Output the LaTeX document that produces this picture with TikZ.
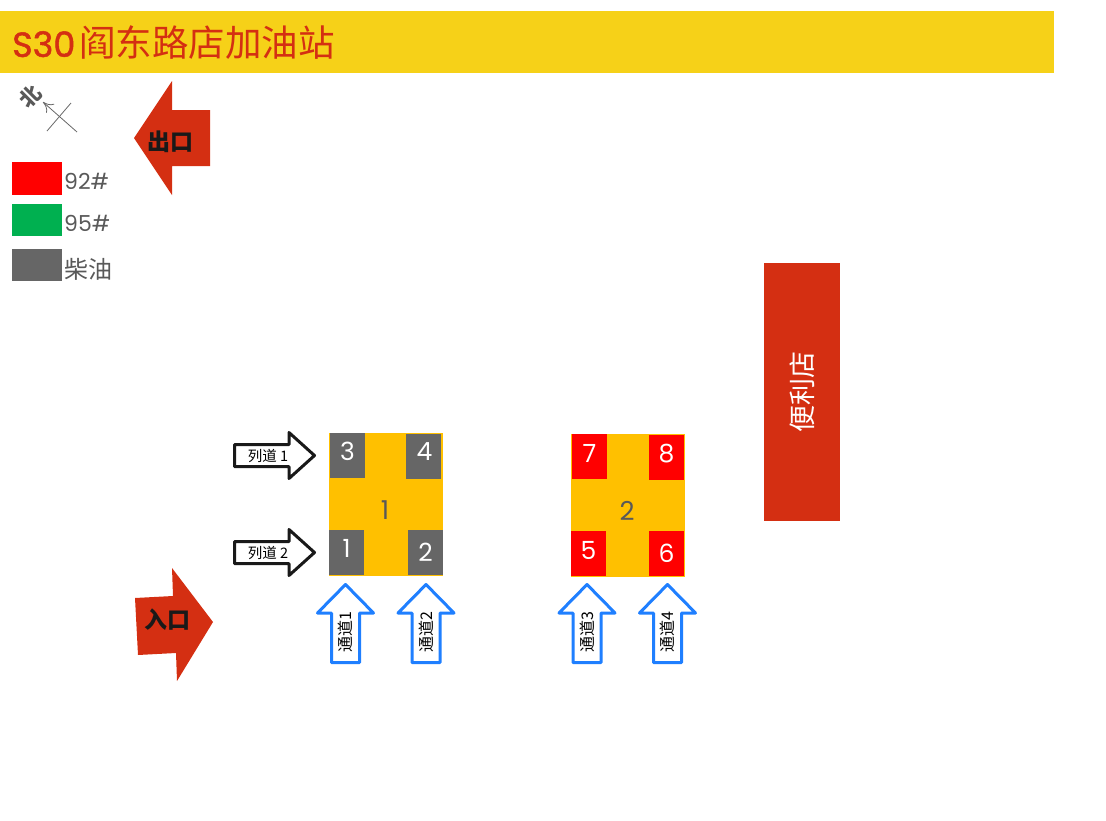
\documentclass[tikz,border=0pt]{standalone}
\usepackage{fontspec}
\setmainfont{Poppins}
\newfontfamily\cjk{Noto Sans CJK SC}
\newfontfamily\heavy[FakeBold=1.4]{Poppins}
\usetikzlibrary{positioning, arrows.meta}
\definecolor{banner}{HTML}{F6D118}
\definecolor{brick}{HTML}{D42F12}
\definecolor{amber}{HTML}{FFC000}
\definecolor{slate}{HTML}{666666}
\definecolor{ink}{HTML}{595959}
\definecolor{lane}{HTML}{1F7FFF}
\definecolor{petrol}{HTML}{00B050}
\newcommand{\fs}[1]{\fontsize{#1}{#1}\selectfont}
\tikzset{block/.style={rectangle, inner sep=0pt, outer sep=0pt}}
\tikzset{swatch/.style={block, minimum width=50pt}}
\tikzset{legendtext/.style={inner sep=0pt, text=ink, font=\fs{22}}}
\tikzset{island/.style={block, fill=amber, minimum width=114pt, minimum height=143pt}}
\tikzset{islandtext/.style={inner sep=0pt, text=ink, font=\fs{26}}}
\tikzset{pump/.style={block, text=white, font=\fs{25}, minimum width=35pt, minimum height=45pt}}
\tikzset{bigtext/.style={inner sep=0pt, font=\cjk\bfseries\fs{23}, text=black!90}}
\tikzset{rowarrow/.pic={
    \draw[black!90, fill=white, line width=3pt, line join=round] (0,-11) -- (54.5,-11) -- (54.5,-23) -- (80,0) -- (54.5,23) -- (54.5,11) -- (0,11) -- cycle;
    \node[inner sep=0pt, font=\cjk\fs{14.5}] (-label) at (33.5,0) {#1};
}}
\tikzset{passarrow/.pic={
    \draw[lane, fill=white, line width=3pt, line join=round] (-14,0) -- (-14,-49.5) -- (-28,-49.5) -- (0,-78) -- (28,-49.5) -- (14,-49.5) -- (14,0) -- cycle;
    \node[inner sep=0pt, rotate=90, font=\cjk\fs{16}] (-label) at (0,-30.5) {#1};
}}
\begin{document}
\begin{tikzpicture}[x=1pt, y=-1pt]

    \useasboundingbox (0,0) rectangle (1106,820);

    \node[block, fill=banner, minimum width=1054pt, minimum height=62pt] (banner) at (527,42) {};
    \node[inner sep=0pt, anchor=west, text=brick, font=\fs{35}] (title) at (12,43) {{\heavy S30}\hspace{4pt}{\cjk\fs{36.5}阎东路店加油站}};

    % compass
    \coordinate (nw) at (43,102);
    \coordinate (se) at (77,132);
    \coordinate (ne) at (71,103);
    \coordinate (sw) at (47,131);
    \draw[-{To[length=10pt, width=12pt]}, slate, line width=0.8pt] (se) -- (nw);
    \draw[slate, line width=0.8pt] (sw) -- (ne);
    \node[inner sep=0pt, rotate=45, text=ink, font=\cjk\bfseries\fs{21}] (north) at (30,96) {北};

    % legend
    \node[swatch, fill=red, minimum height=33pt] (s92) at (37,178.5) {};
    \node[swatch, fill=petrol, minimum height=32pt] (s95) at (37,220) {};
    \node[swatch, fill=slate, minimum height=32pt] (sdiesel) at (37,265) {};
    \node[legendtext, right=2pt of s92, yshift=-3pt] (t92) {92\#};
    \node[legendtext, right=2pt of s95, yshift=-3pt] (t95) {95\#};
    \node[legendtext, right=2pt of sdiesel, yshift=-4pt, font=\cjk\fs{24}] (tdiesel) {柴油};

    % ways in and out
    \fill[brick] (134,138) -- (172,81) -- (172,110) -- (210,110) -- (210,166) -- (172,166) -- (172,195) -- cycle;
    \node[bigtext] (out) at (170,142) {出口};
    \fill[brick] (135,598) -- (173,596) -- (172,568) -- (213,622) -- (177,681) -- (176,653) -- (138,655) -- cycle;
    \node[bigtext] (in) at (167,620) {入口};

    % first island
    \node[island] (i1) at (386,504.5) {};
    \node[islandtext] (n1) at (385,510) {1};
    \node[pump, fill=slate] (p3) at (347.5,455.5) {\raisebox{8pt}{3}};
    \node[pump, fill=slate] (p4) at (423.5,456) {\raisebox{8pt}{\hspace{2pt}4}};
    \node[pump, fill=slate] (p1) at (346.5,552.5) {\raisebox{8pt}{1}};
    \node[pump, fill=slate] (p2) at (425.5,552.5) {2};

    % second island
    \node[island] (i2) at (628,505) {};
    \node[islandtext] (n2) at (627,511) {2};
    \node[pump, fill=red] (p7) at (589.5,456.5) {\raisebox{6pt}{7}};
    \node[pump, fill=red] (p8) at (666.5,457) {\raisebox{8pt}{8}};
    \node[pump, fill=red] (p5) at (588.5,553.5) {\raisebox{6pt}{5}};
    \node[pump, fill=red] (p6) at (666.5,553.5) {6};

    % lanes
    \pic (r1) at (234.5,455.5) {rowarrow={列道 1}};
    \pic (r2) at (234.5,552.5) {rowarrow={列道 2}};
    \pic (c1) at (345.5,662.5) {passarrow={通道1}};
    \pic (c2) at (426,662.5) {passarrow={通道2}};
    \pic (c3) at (587,662.5) {passarrow={通道3}};
    \pic (c4) at (667.5,662.5) {passarrow={通道4}};

    \node[block, fill=brick, minimum width=76pt, minimum height=258pt, text=white, font=\cjk\fs{27}] (shop) at (802,392) {\rotatebox{90}{便利店}};

\end{tikzpicture}
\end{document}
